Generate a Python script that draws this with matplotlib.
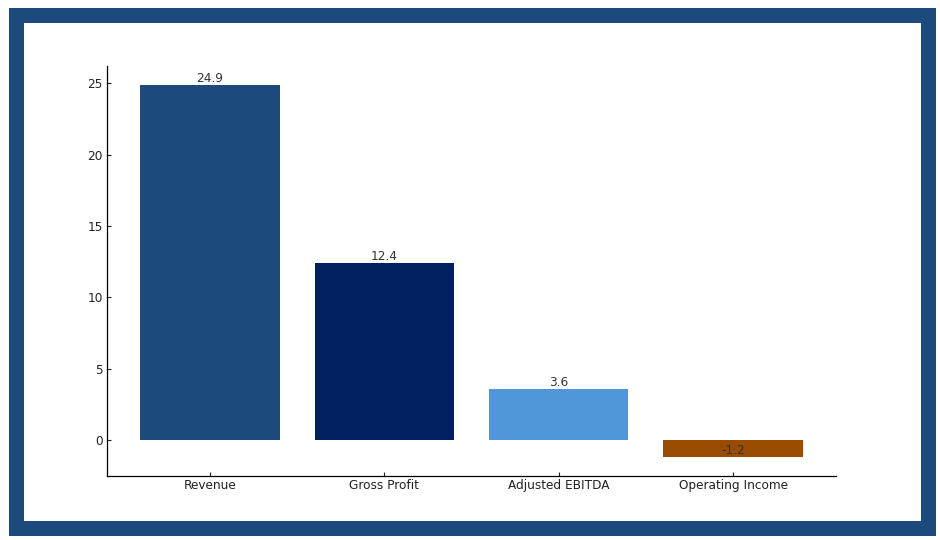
import matplotlib
matplotlib.use("Agg")
import matplotlib.pyplot as plt
from matplotlib.patches import Rectangle

categories = ["Revenue", "Gross Profit", "Adjusted EBITDA", "Operating Income"]
values = [24.9, 12.4, 3.6, -1.2]
colors = ["#1c4a7c", "#002060", "#5096da", "#994c00"]

W, H = 940, 540
fig = plt.figure(figsize=(W / 100, H / 100), dpi=100)
fig.patch.set_facecolor("white")

ax = fig.add_axes([107 / W, 1 - 476 / H, (836 - 107) / W, (476 - 66) / H])
bars = ax.bar(categories, values, color=colors, width=0.8)
for b, v in zip(bars, values):
    ax.text(b.get_x() + b.get_width() / 2, v, f"{v}", ha="center", va="bottom",
            fontsize=8.7, color="#333333")

for s in ["top", "right"]:
    ax.spines[s].set_visible(False)
ax.spines["left"].set_linewidth(0.9)
ax.spines["bottom"].set_linewidth(0.9)
ax.tick_params(direction="in", length=3, width=0.8, labelsize=8.7, colors="#222222")
ax.tick_params(axis="x", pad=2.5)
ax.tick_params(axis="y", pad=3)
ax.set_yticks([0, 5, 10, 15, 20, 25])

# border frame
rect = Rectangle((15.5 / W, 1 - 527.5 / H), (927.5 - 15.5) / W, (527.5 - 14.5) / H,
                 transform=fig.transFigure, fill=False, edgecolor="#1c4a7c",
                 linewidth=15 * 72 / 100, joinstyle="miter", zorder=10)
fig.patches.append(rect)

fig.savefig("out.png", dpi=100)
